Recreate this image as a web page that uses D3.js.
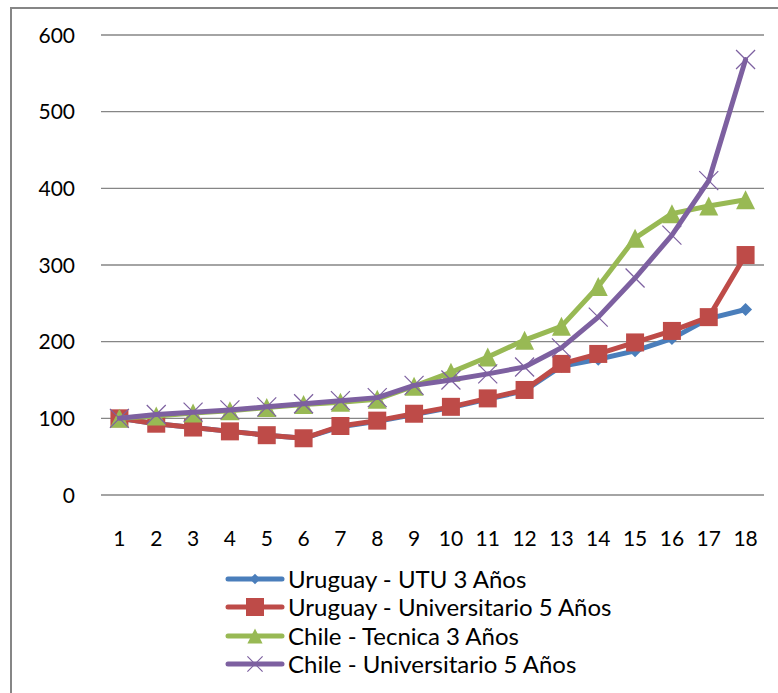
<!DOCTYPE html>
<html>
<head>
<meta charset="utf-8">
<script src="https://cdn.jsdelivr.net/npm/d3@7"></script>
<style>
  html, body { margin: 0; padding: 0; background: #fff; }
  svg { display: block; }
  text { font-family: Lato, "Open Sans", sans-serif; fill: #000; }
</style>
</head>
<body>
<svg id="chart" width="778" height="693"></svg>
<script>
// Years 1..18
const categories = [1,2,3,4,5,6,7,8,9,10,11,12,13,14,15,16,17,18];
const yTicks = [0, 100, 200, 300, 400, 500, 600];

const seriesNames = [
  "Uruguay - UTU 3 Años",
  "Uruguay - Universitario 5 Años",
  "Chile - Tecnica 3 Años",
  "Chile - Universitario 5 Años"
];
const uruguayUTU   = [100, 93, 88, 83, 78, 74, 89, 96, 105, 114, 125, 136, 168, 177, 188, 204, 230, 242];
const uruguayUniv  = [100, 93, 88, 83, 78, 74, 90, 97, 106, 115, 126, 137, 171, 184, 199, 214, 232, 313];
const chileTecnica = [100, 103, 107, 110, 114, 118, 121, 125, 142, 160, 180, 202, 220, 272, 335, 367, 377, 385];
const chileUniv    = [100, 105, 108, 111, 115, 119, 123, 127, 143, 150, 158, 167, 192, 232, 283, 339, 410, 568];

const colors  = ["#4a7ebb", "#be4b48", "#98b954", "#7d60a0"];
const markers = ["diamond", "square", "triangle", "cross"];
const seriesValues = [uruguayUTU, uruguayUniv, chileTecnica, chileUniv];

const svg = d3.select("#chart");

// Outer chart frame
svg.append("rect")
  .attr("x", 11).attr("y", 8)
  .attr("width", 800).attr("height", 720)
  .attr("fill", "none").attr("stroke", "#868686").attr("stroke-width", 2);

const x = d3.scalePoint().domain(categories).range([101, 764]).padding(0.5);
const y = d3.scaleLinear().domain([0, 600]).range([495, 35]);

// Horizontal gridlines
svg.append("g").selectAll("line").data(yTicks).join("line")
  .attr("x1", 101).attr("x2", 764)
  .attr("y1", d => y(d)).attr("y2", d => y(d))
  .attr("stroke", "#868686").attr("stroke-width", 1.3);

// Value axis labels
svg.append("g").selectAll("text").data(yTicks).join("text")
  .attr("x", 75).attr("y", d => y(d))
  .attr("dy", "0.36em")
  .attr("text-anchor", "end")
  .attr("font-size", 21)
  .text(d => d);

// Category axis labels
svg.append("g").selectAll("text").data(categories).join("text")
  .attr("x", d => x(d)).attr("y", 538)
  .attr("dy", "0.36em")
  .attr("text-anchor", "middle")
  .attr("font-size", 21)
  .text(d => d);

function drawMarker(g, type, color, cx, cy, scale) {
  const s = scale || 1;
  if (type === "diamond") {
    const r = 6.5 * s;
    g.append("path")
      .attr("d", `M${cx},${cy - r}L${cx + r},${cy}L${cx},${cy + r}L${cx - r},${cy}Z`)
      .attr("fill", color);
  } else if (type === "square") {
    const h = 9 * s;
    g.append("rect")
      .attr("x", cx - h).attr("y", cy - h)
      .attr("width", 2 * h).attr("height", 2 * h)
      .attr("fill", color);
  } else if (type === "triangle") {
    const h = 9.5 * s;
    g.append("path")
      .attr("d", `M${cx},${cy - h}L${cx + h},${cy + h}L${cx - h},${cy + h}Z`)
      .attr("fill", color);
  } else if (type === "cross") {
    const h = 9.5 * s;
    g.append("path")
      .attr("d", `M${cx - h},${cy - h}L${cx + h},${cy + h}M${cx - h},${cy + h}L${cx + h},${cy - h}`)
      .attr("stroke", color).attr("stroke-width", 1.2).attr("fill", "none");
  }
}

const line = d3.line()
  .x((d, i) => x(categories[i]))
  .y(d => y(d));

// Series: line then markers, in series order
seriesValues.forEach((vals, si) => {
  const g = svg.append("g");
  g.append("path")
    .attr("d", line(vals))
    .attr("fill", "none")
    .attr("stroke", colors[si])
    .attr("stroke-width", 5)
    .attr("stroke-linejoin", "round")
    .attr("stroke-linecap", "round");
  vals.forEach((v, i) => drawMarker(g, markers[si], colors[si], x(categories[i]), y(v), 1));
});

// Legend
const legendY = [579, 607, 636, 664];
seriesNames.forEach((name, si) => {
  const g = svg.append("g");
  const ly = legendY[si];
  g.append("line")
    .attr("x1", 228).attr("x2", 282)
    .attr("y1", ly).attr("y2", ly)
    .attr("stroke", colors[si]).attr("stroke-width", 5)
    .attr("stroke-linecap", "round");
  drawMarker(g, markers[si], colors[si], 255, ly, si === 1 ? 1 : 0.8);
  g.append("text")
    .attr("x", 288).attr("y", ly)
    .attr("dy", "0.36em")
    .attr("font-size", 24)
    .text(name);
});
</script>
</body>
</html>
